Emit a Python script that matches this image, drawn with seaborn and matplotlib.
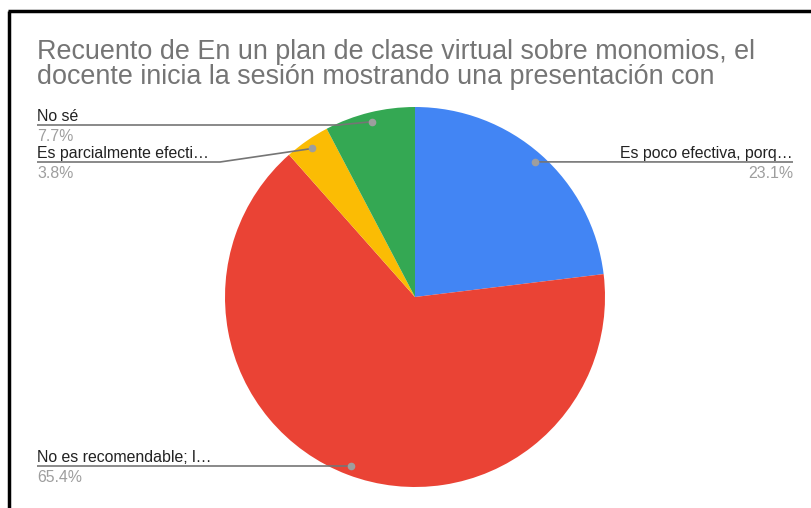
import numpy as np
import matplotlib
matplotlib.use("Agg")
import matplotlib.pyplot as plt
import seaborn as sns

sns.set_theme(style="white")
plt.rcParams['font.family'] = ['Liberation Sans', 'DejaVu Sans']

# ---- data ----
categories = ["Es poco efectiva, porq…", "No es recomendable; l…",
              "Es parcialmente efecti…", "No sé"]
counts = [6, 17, 1, 2]
colors = ["#4285F4", "#EA4335", "#FBBC04", "#34A853"]
title_lines = ["Recuento de En un plan de clase virtual sobre monomios, el",
               "docente inicia la sesión mostrando una presentación con"]

W, H = 812, 508
fig = plt.figure(figsize=(W / 100, H / 100), dpi=100)
ax = fig.add_axes([0, 0, 1, 1])

cx, cy, R = 415, H - 297, 190
wedges, _ = ax.pie(counts, colors=colors, startangle=90, counterclock=False,
                   center=(cx, cy), radius=R, frame=True,
                   wedgeprops=dict(linewidth=0))
ax.set_xlim(0, W)
ax.set_ylim(0, H)
ax.set_aspect("equal")
ax.axis("off")

total = sum(counts)
# label anchor (text x, line y in px from top, side)
anchors = {
    0: (793, 162, "right"),
    1: (37, 466, "left"),
    2: (37, 162, "left"),
    3: (37, 125, "left"),
}
elbows = {0: None, 1: None, 2: 220, 3: 338}
for i, w in enumerate(wedges):
    mid = np.deg2rad((w.theta1 + w.theta2) / 2)
    dx = cx + 0.95 * R * np.cos(mid)
    dy = cy + 0.95 * R * np.sin(mid)
    tx, ly, side = anchors[i]
    ly = H - ly
    if elbows[i] is not None:
        xs = [tx, elbows[i], dx]
        ys = [ly, ly, dy]
    else:
        xs = [tx, dx]
        ys = [ly, ly]
        if side == "right":
            ys = [ly, dy]
    ax.plot(xs, ys, color="#757575", lw=1.2, solid_capstyle="butt", zorder=3)
    ax.plot([dx], [dy], "o", color="#9e9e9e", ms=4.5, zorder=4)
    ax.text(tx, ly + 4, categories[i], ha=side, va="baseline",
            fontsize=11.4, color="#222222")
    ax.text(tx, ly - 16, f"{100 * counts[i] / total:.1f}%", ha=side,
            va="baseline", fontsize=11.4, color="#9e9e9e")

for k, line in enumerate(title_lines):
    ax.text(37, H - (59 + 25 * k), line, ha="left", va="baseline",
            fontsize=19.4, color="#757575")

# frame lines (left and top)
ax.plot([9.5, 9.5], [0, H - 11], color="black", lw=2.5, solid_capstyle="butt")
ax.plot([8.3, W], [H - 11, H - 11], color="black", lw=2.5, solid_capstyle="butt")

fig.savefig("out.png", dpi=100, facecolor="white")
